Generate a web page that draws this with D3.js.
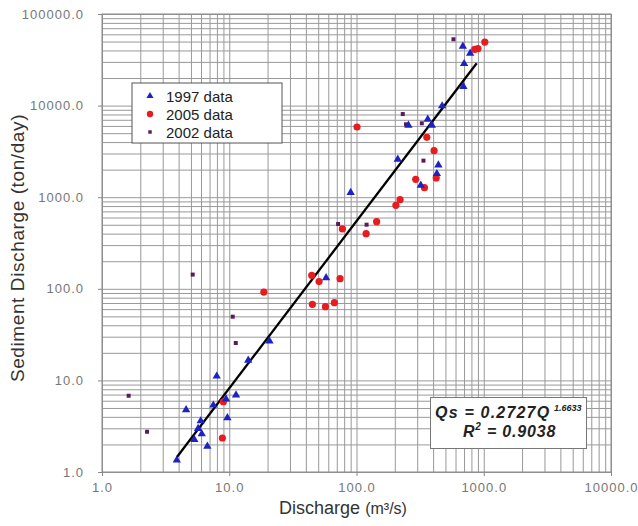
<!DOCTYPE html>
<html>
<head>
<meta charset="utf-8">
<script src="https://cdn.jsdelivr.net/npm/d3@7"></script>
<style>
  body { margin: 0; background: #fff; }
  svg { font-family: "Liberation Sans", Arial, sans-serif; }
</style>
</head>
<body>
<div id="chart"></div>
<script>
// discharge (m3/s) and sediment discharge (ton/day)
const q1997  = [3.87, 5.32, 6.08, 5.69, 5.97, 6.73, 4.58, 7.5, 9.44, 9.67, 11.3, 7.97, 14.1, 20.7,
                57.7, 90, 211, 320, 428, 440, 256, 391, 363, 471, 692, 701, 782, 685];
const qs1997 = [1.38, 2.31, 2.67, 3.05, 3.7, 1.96, 4.9, 5.5, 6.4, 4.0, 7.1, 11.4, 17.0, 27.6,
                135, 1150, 2660, 1383, 1852, 2305, 6250, 6250, 7265, 10160, 16500, 29400, 38200, 45500];

const q2005  = [8.83, 8.99, 18.7, 45, 57, 67, 44.5, 50.8, 74.3, 77.5, 119, 144, 204, 220,
                292, 342, 423, 407, 357, 101, 850, 900, 1020];
const qs2005 = [2.35, 5.85, 92, 67.7, 63.8, 70.5, 140, 120, 129, 450, 400, 540, 815, 939,
                1567, 1270, 1622, 3220, 4510, 5840, 41000, 41800, 49400];

const q2002  = [1.62, 2.26, 5.16, 10.65, 11.25, 71.7, 120, 336, 245, 326, 231, 578];
const qs2002 = [6.8, 2.75, 143, 49.6, 25.6, 510, 501, 2505, 6250, 6410, 8090, 52970];

// drawn trend line, end points
const fitQ  = [3.87, 880];
const fitQs = [1.45, 29000];

const xTicks = [1, 10, 100, 1000, 10000];
const yTicks = [1, 10, 100, 1000, 10000, 100000];
const seriesNames = ["1997 data", "2005 data", "2002 data"];

const W = 638, H = 526;
const margin = { left: 102, top: 14, right: 27, bottom: 54 };
const w = W - margin.left - margin.right;
const h = H - margin.top - margin.bottom;

const svg = d3.select("#chart").append("svg")
  .attr("width", W).attr("height", H);

const g = svg.append("g")
  .attr("transform", `translate(${margin.left},${margin.top})`);

const x = d3.scaleLog().domain([1, 10000]).range([0, w]);
const y = d3.scaleLog().domain([1, 100000]).range([h, 0]);

// grid (1..9 in every decade)
g.append("g")
  .attr("transform", `translate(0,${h})`)
  .call(d3.axisBottom(x).tickValues(x.ticks()).tickSize(-h).tickFormat(""))
  .call(a => a.select(".domain").remove())
  .selectAll("line").attr("stroke", "#999").attr("stroke-width", 1);

g.append("g")
  .call(d3.axisLeft(y).tickValues(y.ticks()).tickSize(-w).tickFormat(""))
  .call(a => a.select(".domain").remove())
  .selectAll("line").attr("stroke", "#999").attr("stroke-width", 1);

// frame
g.append("rect")
  .attr("width", w).attr("height", h)
  .attr("fill", "none").attr("stroke", "#888");

// tick labels
const fmt = d3.format(".1f");
const xAxis = g.append("g")
  .attr("transform", `translate(0,${h})`)
  .call(d3.axisBottom(x).tickValues(xTicks).tickSize(4).tickPadding(7).tickFormat(fmt));
const yAxis = g.append("g")
  .call(d3.axisLeft(y).tickValues(yTicks).tickSize(4).tickPadding(14).tickFormat(fmt));

[xAxis, yAxis].forEach(a => {
  a.select(".domain").remove();
  a.selectAll("line").attr("stroke", "#888");
  a.selectAll("text")
    .attr("fill", "#777")
    .attr("font-size", "13px")
    .attr("letter-spacing", "1px")
    .attr("font-family", "'Liberation Sans', Arial, sans-serif");
});

// trend line
g.append("path")
  .datum(fitQ.map((d, i) => [d, fitQs[i]]))
  .attr("d", d3.line().x(d => x(d[0])).y(d => y(d[1])))
  .attr("stroke", "#000").attr("stroke-width", 2.3).attr("fill", "none");

// markers
const tri = d3.symbol().type(d3.symbolTriangle).size(30);
const sq = d3.symbol().type(d3.symbolSquare).size(16);

g.append("g").selectAll("path")
  .data(q2002.map((d, i) => [d, qs2002[i]]))
  .join("path")
  .attr("d", sq)
  .attr("transform", d => `translate(${x(d[0])},${y(d[1])})`)
  .attr("fill", "#5c1a5e");

g.append("g").selectAll("circle")
  .data(q2005.map((d, i) => [d, qs2005[i]]))
  .join("circle")
  .attr("cx", d => x(d[0])).attr("cy", d => y(d[1]))
  .attr("r", 3.6)
  .attr("fill", "#e81c1e");

g.append("g").selectAll("path")
  .data(q1997.map((d, i) => [d, qs1997[i]]))
  .join("path")
  .attr("d", tri)
  .attr("transform", d => `translate(${x(d[0])},${y(d[1]) + 1})`)
  .attr("fill", "#1d22c4");

// legend
const leg = svg.append("g").attr("transform", "translate(132,83)");
leg.append("rect")
  .attr("width", 150).attr("height", 60)
  .attr("fill", "#fff").attr("stroke", "#555");
seriesNames.forEach((name, i) => {
  const row = leg.append("g").attr("transform", `translate(18,${13 + i * 18})`);
  if (i === 0) row.append("path").attr("d", d3.symbol().type(d3.symbolTriangle).size(22)).attr("fill", "#1d22c4");
  if (i === 1) row.append("circle").attr("r", 3.2).attr("fill", "#e81c1e");
  if (i === 2) row.append("path").attr("d", d3.symbol().type(d3.symbolSquare).size(12)).attr("fill", "#5c1a5e");
  row.append("text")
    .attr("x", 16).attr("y", 5.5)
    .attr("font-size", "15px").attr("fill", "#222")
    .text(name);
});

// equation box
const eq = svg.append("g");
eq.append("rect")
  .attr("x", 430.5).attr("y", 397.5).attr("width", 156).attr("height", 51)
  .attr("fill", "#fff").attr("stroke", "#777");
eq.append("text")
  .attr("x", 435).attr("y", 418)
  .attr("font-size", "16px").attr("font-weight", "bold").attr("font-style", "italic")
  .attr("letter-spacing", "1.2px").attr("fill", "#222")
  .text("Qs = 0.2727Q");
eq.append("text")
  .attr("x", 554).attr("y", 411)
  .attr("font-size", "9px").attr("font-weight", "bold").attr("font-style", "italic")
  .attr("fill", "#222")
  .text("1.6633");
const r2 = eq.append("text")
  .attr("x", 463).attr("y", 437)
  .attr("font-size", "16px").attr("font-weight", "bold").attr("font-style", "italic")
  .attr("letter-spacing", "0.8px").attr("fill", "#222");
r2.append("tspan").text("R");
r2.append("tspan").attr("dy", -7).attr("font-size", "10px").text("2");
r2.append("tspan").attr("dy", 7).text(" = 0.9038");

// axis titles
svg.append("text")
  .attr("transform", "translate(24,248) rotate(-90)")
  .attr("text-anchor", "middle")
  .attr("font-size", "19px").attr("letter-spacing", "0.6px").attr("fill", "#333")
  .text("Sediment Discharge (ton/day)");

const xt = svg.append("text")
  .attr("x", 343).attr("y", 514)
  .attr("text-anchor", "middle")
  .attr("fill", "#333");
xt.append("tspan").attr("font-size", "18px").text("Discharge ");
xt.append("tspan").attr("font-size", "16px").text("(m³/s)");
</script>
</body>
</html>
